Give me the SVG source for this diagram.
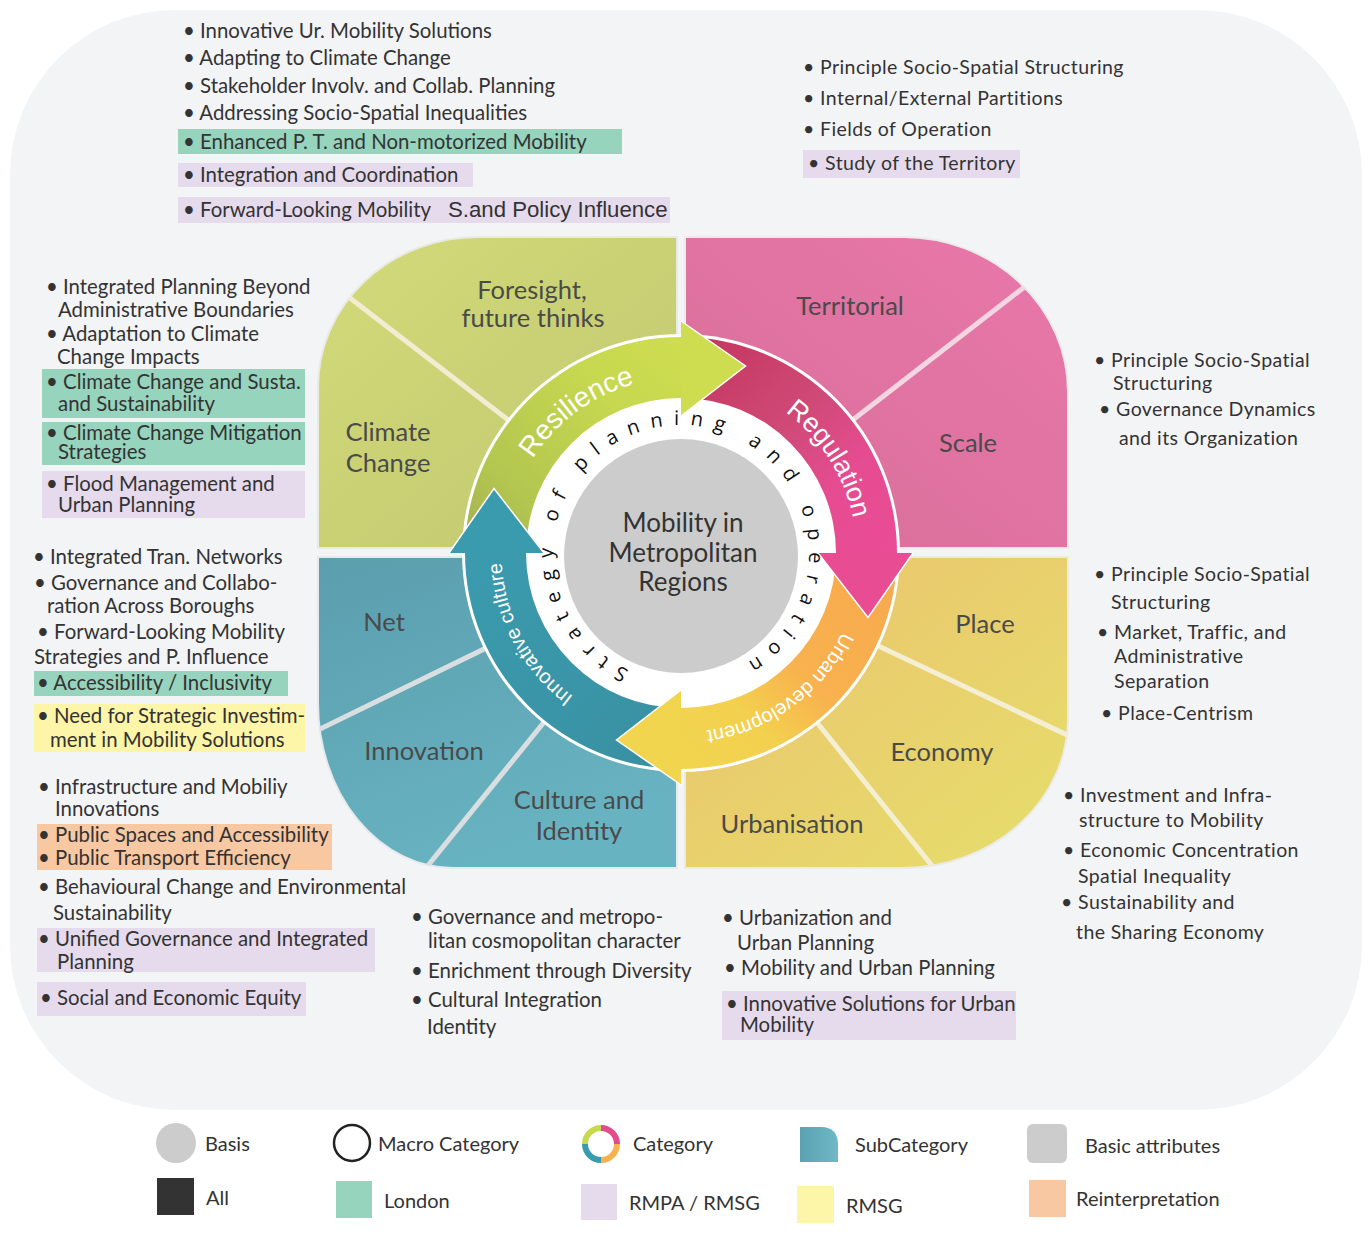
<svg xmlns="http://www.w3.org/2000/svg" xmlns:xlink="http://www.w3.org/1999/xlink" width="1372" height="1248" viewBox="0 0 1372 1248">
<defs>
<style>
.t{font-family:Lato,"Open Sans","Liberation Sans",sans-serif;font-size:20.4px;fill:#333}
.tr{font-family:Lato,"Open Sans","Liberation Sans",sans-serif;font-size:19.5px;fill:#333;letter-spacing:0.4px}
.q{font-family:Lato,"Open Sans","Liberation Sans",sans-serif;font-size:25.5px;fill:#4a4a4a;text-anchor:middle}
.ctr{font-family:Lato,"Open Sans","Liberation Sans",sans-serif;font-size:26px;fill:#333;text-anchor:middle}
.bt{font-family:"Liberation Sans",Arial,sans-serif;fill:#fff;text-anchor:middle}
.rt{font-family:"Open Sans","Liberation Sans",sans-serif;font-size:20px;fill:#111;letter-spacing:10.8px}
.lg{font-family:Lato,"Open Sans","Liberation Sans",sans-serif;font-size:20px;fill:#333}
.ar{font-family:"Liberation Sans",Arial,sans-serif;font-size:22.2px}
.div{stroke-width:5;fill:none}
.g{fill:#96d4be}.p{fill:#e6dbec}.y{fill:#fdf5a8}.o{fill:#f8c8a3}
</style>
<linearGradient id="gG" x1="0" y1="0" x2="1" y2="1"><stop offset="0" stop-color="#d2db79"/><stop offset="1" stop-color="#c0c670"/></linearGradient>
<linearGradient id="gP" x1="0" y1="1" x2="1" y2="0"><stop offset="0" stop-color="#d86e98"/><stop offset="1" stop-color="#e878aa"/></linearGradient>
<linearGradient id="gT" x1="0" y1="0" x2="0.4" y2="1"><stop offset="0" stop-color="#5b9eae"/><stop offset="1" stop-color="#68b3c1"/></linearGradient>
<linearGradient id="gY" x1="0" y1="0" x2="1" y2="1"><stop offset="0" stop-color="#ebc26e"/><stop offset="1" stop-color="#e6de6b"/></linearGradient>
<linearGradient id="bG" gradientUnits="userSpaceOnUse" x1="470" y1="560" x2="681" y2="337"><stop offset="0" stop-color="#a5ab55"/><stop offset="0.25" stop-color="#b2c54f"/><stop offset="0.7" stop-color="#c6d84f"/><stop offset="1" stop-color="#cfdd4f"/></linearGradient>
<linearGradient id="bP" gradientUnits="userSpaceOnUse" x1="690" y1="337" x2="897" y2="553"><stop offset="0" stop-color="#c3355d"/><stop offset="0.45" stop-color="#d04a78"/><stop offset="0.7" stop-color="#e64c92"/><stop offset="1" stop-color="#ea4c95"/></linearGradient>
<linearGradient id="bO" gradientUnits="userSpaceOnUse" x1="897" y1="553" x2="681" y2="769"><stop offset="0" stop-color="#f8a84e"/><stop offset="0.5" stop-color="#f8b24e"/><stop offset="0.72" stop-color="#f3d04e"/><stop offset="1" stop-color="#f2d54f"/></linearGradient>
<linearGradient id="bT" gradientUnits="userSpaceOnUse" x1="681" y1="769" x2="465" y2="553"><stop offset="0" stop-color="#3890a2"/><stop offset="1" stop-color="#3b9bae"/></linearGradient>
<linearGradient id="lgSub" x1="0" y1="0" x2="1" y2="0"><stop offset="0" stop-color="#5aa2b2"/><stop offset="1" stop-color="#6fb8c5"/></linearGradient>
<path id="qG" d="M677 237 L677 548 L318 548 L318 387 A160 150 0 0 1 478 237 Z"/>
<path id="qP" d="M685 237 L903 237 A165 155 0 0 1 1068 392 L1068 548 L685 548 Z"/>
<path id="qT" d="M318 557 L677 557 L677 868 L453 868 A135 165 0 0 1 318 703 Z"/>
<path id="qY" d="M685 557 L1068 557 L1068 718 A165 150 0 0 1 903 868 L685 868 Z"/>
<clipPath id="cG"><use href="#qG"/></clipPath>
<clipPath id="cP"><use href="#qP"/></clipPath>
<clipPath id="cT"><use href="#qT"/></clipPath>
<clipPath id="cY"><use href="#qY"/></clipPath>
<path id="arcA" d="M650.61 725.34 A175 175 0 1 1 711.39 380.66 A175 175 0 1 1 650.61 725.34"/>
<path id="arcB" d="M649.92 729.28 A179 179 0 1 1 712.08 376.72 A179 179 0 1 1 649.92 729.28"/>
<path id="arcR" d="M658.77 679.06 A128 128 0 1 1 703.23 426.94 A128 128 0 1 1 658.77 679.06"/>
</defs>

<rect x="0" y="0" width="1372" height="1248" fill="#ffffff"/>
<rect id="panel" x="10" y="10" width="1352" height="1100" rx="165" ry="165" fill="#f3f4f6"/>

<!-- Quadrants (subcategories) -->
<g id="quadrant-resilience">
<use href="#qG" fill="url(#gG)" stroke="#e9eae6" stroke-width="2"/>
<g clip-path="url(#cG)"><line class="div" x1="681" y1="553" x2="285" y2="248" stroke="#f2edd2"/></g>
<text class="q" x="532" y="299">Foresight,</text>
<text class="q" x="533" y="327">future thinks</text>
<text class="q" x="388" y="441">Climate</text>
<text class="q" x="388" y="472">Change</text>
</g>
<g id="quadrant-regulation">
<use href="#qP" fill="url(#gP)" stroke="#ecebec" stroke-width="2"/>
<g clip-path="url(#cP)"><line class="div" x1="681" y1="553" x2="1076" y2="247" stroke="#f4d6e2"/></g>
<text class="q" x="850" y="315">Territorial</text>
<text class="q" x="968" y="452">Scale</text>
</g>
<g id="quadrant-innovative-culture">
<use href="#qT" fill="url(#gT)" stroke="#e6eaec" stroke-width="2"/>
<g clip-path="url(#cT)"><line class="div" x1="681" y1="553" x2="232" y2="772" stroke="#d9dee1"/><line class="div" x1="681" y1="553" x2="366" y2="942" stroke="#d9dee1"/></g>
<text class="q" x="384" y="631">Net</text>
<text class="q" x="424" y="760">Innovation</text>
<text class="q" x="579" y="809">Culture and</text>
<text class="q" x="579" y="840">Identity</text>
</g>
<g id="quadrant-urban-development">
<use href="#qY" fill="url(#gY)" stroke="#eceae4" stroke-width="2"/>
<g clip-path="url(#cY)"><line class="div" x1="681" y1="553" x2="1133" y2="766" stroke="#f4eed2"/><line class="div" x1="681" y1="553" x2="994" y2="943" stroke="#f4eed2"/></g>
<text class="q" x="985" y="633">Place</text>
<text class="q" x="942" y="761">Economy</text>
<text class="q" x="792" y="833">Urbanisation</text>
</g>

<!-- Cycle of categories -->
<g id="connectors">
<circle cx="681" cy="553" r="219" fill="#ffffff"/>
<path id="band-resilience" d="M465 553 A216 216 0 0 1 681 337 L681 398 A155 155 0 0 0 526 553 Z" fill="url(#bG)"/>
<path id="band-regulation" d="M681 337 A216 216 0 0 1 897 553 L836 553 A155 155 0 0 0 681 398 Z" fill="url(#bP)"/>
<path id="band-urban" d="M897 553 A216 216 0 0 1 681 769 L681 708 A155 155 0 0 0 836 553 Z" fill="url(#bO)"/>
<path id="band-innovative" d="M681 769 A216 216 0 0 1 465 553 L526 553 A155 155 0 0 0 681 708 Z" fill="url(#bT)"/>
<polygon points="681,416 681,321 745.5,366" fill="#cedc4f"/>
<polyline points="681,321 745.5,366 681,416" fill="none" stroke="#ffffff" stroke-width="1.5"/>
<polygon points="818,553 913,553 868,617.5" fill="#e84c93"/>
<polyline points="913,553 868,617.5 818,553" fill="none" stroke="#ffffff" stroke-width="1.5"/>
<polygon points="681,690 681,785 616.5,740" fill="#f2d54f"/>
<polyline points="681,785 616.5,740 681,690" fill="none" stroke="#ffffff" stroke-width="1.5"/>
<polygon points="544,553 449,553 494,488.5" fill="#3a9aae"/>
<polyline points="449,553 494,488.5 544,553" fill="none" stroke="#ffffff" stroke-width="1.5"/>
<text class="bt" font-size="28"><textPath href="#arcA" startOffset="37.1%">Resilience</textPath></text>
<text class="bt" font-size="27"><textPath href="#arcA" startOffset="63.2%">Regulation</textPath></text>
<text class="bt" font-size="20"><textPath href="#arcB" startOffset="87.2%">Urban development</textPath></text>
<text class="bt" font-size="20"><textPath href="#arcB" startOffset="14.4%">Innovative culture</textPath></text>
</g>

<g id="macro-category">
<text class="rt"><textPath href="#arcR" startOffset="31">Strategy</textPath></text>
<text class="rt"><textPath href="#arcR" startOffset="209.1">of</textPath></text>
<text class="rt"><textPath href="#arcR" startOffset="265.6">planning</textPath></text>
<text class="rt"><textPath href="#arcR" startOffset="449.3">and</textPath></text>
<text class="rt"><textPath href="#arcR" startOffset="533.4">operation</textPath></text>
</g>

<g id="basis">
<circle cx="681" cy="556" r="117" fill="#cccccc"/>
<text class="ctr" x="683" y="532">Mobility in</text>
<text class="ctr" x="683" y="561.5">Metropolitan</text>
<text class="ctr" x="683" y="591">Regions</text>
</g>

<!-- Attribute lists -->
<g id="attrs-top-left">
<rect class="g" x="178" y="129" width="444" height="25"/>
<rect class="p" x="178" y="163" width="295" height="24"/>
<rect class="p" x="178" y="197" width="492" height="26"/>
<text class="t" x="183" y="38">• Innovative Ur. Mobility Solutions</text>
<text class="t" x="183" y="65">• Adapting to Climate Change</text>
<text class="t" x="183" y="93">• Stakeholder Involv. and Collab. Planning</text>
<text class="t" x="183" y="120">• Addressing Socio-Spatial Inequalities</text>
<text class="t" x="183" y="149">• Enhanced P. T. and Non-motorized Mobility</text>
<text class="t" x="183" y="182">• Integration and Coordination</text>
<text class="t" x="183" y="217">• Forward-Looking Mobility<tspan class="ar" x="448">S.and Policy Influence</tspan></text>
</g>
<g id="attrs-top-right">
<rect class="p" x="803" y="150" width="217" height="28"/>
<text class="tr" x="803" y="74">• Principle Socio-Spatial Structuring</text>
<text class="tr" x="803" y="105">• Internal/External Partitions</text>
<text class="tr" x="803" y="136">• Fields of Operation</text>
<text class="tr" x="808" y="170">• Study of the Territory</text>
</g>
<g id="attrs-right-upper">
<text class="tr" x="1094" y="367">• Principle Socio-Spatial</text>
<text class="tr" x="1113" y="390">Structuring</text>
<text class="tr" x="1099" y="416">• Governance Dynamics</text>
<text class="tr" x="1119" y="445">and its Organization</text>
</g>
<g id="attrs-right-middle">
<text class="tr" x="1094" y="581">• Principle Socio-Spatial</text>
<text class="tr" x="1111" y="609">Structuring</text>
<text class="tr" x="1097" y="639">• Market, Traffic,  and</text>
<text class="tr" x="1114" y="663">Administrative</text>
<text class="tr" x="1114" y="688">Separation</text>
<text class="tr" x="1101" y="720">• Place-Centrism</text>
</g>
<g id="attrs-right-lower">
<text class="tr" x="1063" y="802">• Investment and Infra-</text>
<text class="tr" x="1079" y="827">structure to Mobility</text>
<text class="tr" x="1063" y="857">• Economic Concentration</text>
<text class="tr" x="1078" y="883">Spatial Inequality</text>
<text class="tr" x="1061" y="909">• Sustainability and</text>
<text class="tr" x="1076" y="939">the Sharing Economy</text>
</g>
<g id="attrs-left-upper">
<rect class="g" x="42" y="369" width="263" height="49"/>
<rect class="g" x="42" y="422" width="263" height="43"/>
<rect class="p" x="42" y="471" width="263" height="47"/>
<text class="t" x="46" y="294">• Integrated Planning Beyond</text>
<text class="t" x="58" y="317">Administrative Boundaries</text>
<text class="t" x="46" y="341">• Adaptation to Climate</text>
<text class="t" x="57" y="364">Change Impacts</text>
<text class="t" x="46" y="389">• Climate Change and Susta.</text>
<text class="t" x="58" y="411">and Sustainability</text>
<text class="t" x="46" y="440">• Climate Change Mitigation</text>
<text class="t" x="58" y="459">Strategies</text>
<text class="t" x="46" y="491">• Flood Management and</text>
<text class="t" x="58" y="512">Urban Planning</text>
</g>
<g id="attrs-left-middle">
<rect class="g" x="34" y="671" width="254" height="25"/>
<rect class="y" x="34" y="704" width="271" height="48"/>
<text class="t" x="33" y="564">• Integrated Tran. Networks</text>
<text class="t" x="34" y="590">• Governance and Collabo-</text>
<text class="t" x="47" y="613">ration Across Boroughs</text>
<text class="t" x="37" y="639">• Forward-Looking Mobility</text>
<text class="t" x="34" y="664">Strategies and P. Influence</text>
<text class="t" x="37" y="690">• Accessibility / Inclusivity</text>
<text class="t" x="37" y="723">• Need for Strategic Investim-</text>
<text class="t" x="50" y="747">ment in Mobility Solutions</text>
</g>
<g id="attrs-left-lower">
<rect class="o" x="37" y="824" width="295" height="46"/>
<rect class="p" x="37" y="928" width="338" height="44"/>
<rect class="p" x="37" y="982" width="269" height="34"/>
<text class="t" x="38" y="794">• Infrastructure and Mobiliy</text>
<text class="t" x="55" y="816">Innovations</text>
<text class="t" x="38" y="842">• Public Spaces and Accessibility</text>
<text class="t" x="38" y="865">• Public Transport Efficiency</text>
<text class="t" x="38" y="894">• Behavioural Change and Environmental</text>
<text class="t" x="53" y="920">Sustainability</text>
<text class="t" x="38" y="946">• Unified Governance and Integrated</text>
<text class="t" x="57" y="969">Planning</text>
<text class="t" x="40" y="1005">• Social and Economic Equity</text>
</g>
<g id="attrs-bottom-middle">
<text class="t" x="411" y="924">• Governance and metropo-</text>
<text class="t" x="428" y="948">litan cosmopolitan character</text>
<text class="t" x="411" y="978">• Enrichment through Diversity</text>
<text class="t" x="411" y="1007">• Cultural Integration</text>
<text class="t" x="427" y="1034">Identity</text>
</g>
<g id="attrs-bottom-right">
<rect class="p" x="722" y="991" width="294" height="49"/>
<text class="t" x="722" y="925">• Urbanization and</text>
<text class="t" x="737" y="950">Urban Planning</text>
<text class="t" x="724" y="975">• Mobility and Urban Planning</text>
<text class="t" x="726" y="1011">• Innovative Solutions for Urban</text>
<text class="t" x="740" y="1032">Mobility</text>
</g>

<!-- Legend -->
<g id="legend-basis"><circle cx="176" cy="1143" r="20" fill="#cccccc"/><text class="lg" x="205" y="1151">Basis</text></g>
<g id="legend-macro"><circle cx="352" cy="1143" r="18" fill="none" stroke="#222" stroke-width="2.5"/><text class="lg" x="378" y="1151">Macro Category</text></g>
<g id="legend-category">
<path d="M585 1144 A16 16 0 0 1 601 1128" fill="none" stroke="#c9d94e" stroke-width="6"/>
<path d="M601 1128 A16 16 0 0 1 617 1144" fill="none" stroke="#e24c8c" stroke-width="6"/>
<path d="M617 1144 A16 16 0 0 1 601 1160" fill="none" stroke="#f6b24e" stroke-width="6"/>
<path d="M601 1160 A16 16 0 0 1 585 1144" fill="none" stroke="#3a9aae" stroke-width="6"/>
<text class="lg" x="633" y="1151">Category</text>
</g>
<g id="legend-subcategory"><path d="M800 1127 L821 1127 Q838 1127 838 1145 L838 1162 L800 1162 Z" fill="url(#lgSub)"/><text class="lg" x="855" y="1152">SubCategory</text></g>
<g id="legend-basic"><rect x="1027" y="1124" width="40" height="39" rx="6" fill="#cccccc"/><text class="lg" x="1085" y="1153">Basic attributes</text></g>
<g id="legend-all"><rect x="157" y="1178" width="37" height="37" fill="#333333"/><text class="lg" x="206" y="1205">All</text></g>
<g id="legend-london"><rect class="g" x="336" y="1181" width="36" height="37"/><text class="lg" x="384" y="1208">London</text></g>
<g id="legend-rmpa"><rect class="p" x="581" y="1184" width="36" height="36"/><text class="lg" x="629" y="1210">RMPA / RMSG</text></g>
<g id="legend-rmsg"><rect class="y" x="797" y="1186" width="37" height="37"/><text class="lg" x="846" y="1213">RMSG</text></g>
<g id="legend-reinterpretation"><rect class="o" x="1029" y="1180" width="37" height="37"/><text class="lg" x="1076" y="1206">Reinterpretation</text></g>
</svg>
